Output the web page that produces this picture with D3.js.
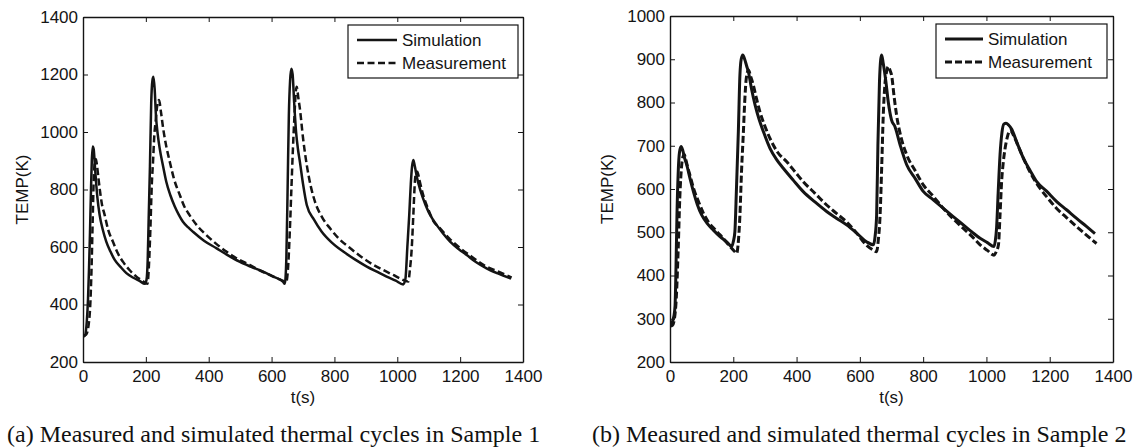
<!DOCTYPE html>
<html>
<head>
<meta charset="utf-8">
<script src="https://cdn.jsdelivr.net/npm/d3@7"></script>
<style>
  body { margin: 0; background: #fff; }
  svg { display: block; }
</style>
</head>
<body>
<svg id="chart" width="1137" height="448"></svg>
<script>
// ---------------- DATA ----------------
const xTicks = [0, 200, 400, 600, 800, 1000, 1200, 1400];
const yTicks1 = [200, 400, 600, 800, 1000, 1200, 1400];
const yTicks2 = [200, 300, 400, 500, 600, 700, 800, 900, 1000];
const seriesNames = ["Simulation", "Measurement"];
const captions = [
  "(a) Measured and simulated thermal cycles in Sample 1",
  "(b) Measured and simulated thermal cycles in Sample 2"
];

// Sample 1: [t (s), TEMP (K)]
const sample1Simulation = [[0,288],[6,292],[12,340],[16,420],[19,520],[22,640],[25,780],[28,900],[31,950],[34,940],[38,880],[42,820],[46,770],[53,711],[63,660],[74,619],[87,585],[101,555],[120,530],[138,509],[160,493],[180,482],[197,472],[202,485],[206,560],[209,700],[213,880],[217,1100],[221,1180],[224,1192],[228,1150],[232,1059],[238,990],[244,943],[255,880],[265,827],[278,780],[292,741],[305,712],[318,688],[335,668],[350,653],[385,622],[424,596],[460,572],[498,549],[535,531],[573,514],[605,497],[636,480],[642,472],[647,560],[651,800],[655,1059],[659,1180],[663,1220],[667,1200],[672,1100],[678,1000],[684,940],[690,897],[700,820],[712,746],[735,695],[759,654],[790,617],[828,584],[865,557],[903,532],[935,514],[966,497],[995,483],[1019,470],[1026,490],[1032,600],[1038,711],[1043,820],[1047,880],[1051,903],[1056,880],[1062,845],[1067,822],[1080,775],[1099,723],[1112,698],[1125,677],[1145,648],[1168,619],[1195,593],[1221,572],[1250,548],[1284,526],[1320,508],[1362,490]];
const sample1Measurement = [[0,290],[10,295],[18,330],[24,420],[28,560],[31,700],[34,830],[37,890],[41,906],[45,880],[49,840],[53,804],[60,750],[69,711],[80,660],[95,619],[110,580],[127,549],[148,520],[170,497],[190,482],[205,472],[210,540],[214,650],[219,820],[223,900],[227,990],[231,1036],[236,1090],[242,1111],[248,1070],[255,1013],[265,950],[276,897],[290,835],[308,781],[322,742],[339,711],[365,672],[392,642],[425,610],[456,584],[493,558],[530,538],[562,519],[594,503],[620,490],[647,480],[652,520],[658,654],[663,800],[668,943],[673,1060],[677,1140],[680,1157],[685,1120],[690,1082],[700,980],[712,885],[725,810],[738,758],[760,705],[786,665],[815,628],[850,596],[885,566],[924,538],[955,520],[987,503],[1010,490],[1035,480],[1040,520],[1046,596],[1051,710],[1056,827],[1060,860],[1064,862],[1070,835],[1080,790],[1099,730],[1115,690],[1136,665],[1165,630],[1200,596],[1237,566],[1274,538],[1320,515],[1364,494]];

// Sample 2: [t (s), TEMP (K)]
const sample2Simulation = [[0,285],[6,290],[12,305],[16,330],[19,420],[22,540],[26,640],[30,685],[35,698],[40,690],[46,672],[53,656],[63,625],[74,594],[86,565],[100,540],[118,520],[137,505],[158,490],[179,478],[195,467],[200,478],[205,501],[210,600],[216,733],[221,864],[225,900],[230,910],[236,900],[242,885],[248,870],[258,830],[269,794],[282,760],[295,733],[316,694],[337,668],[358,648],[390,620],[421,594],[458,570],[495,548],[527,532],[558,517],[590,498],[621,478],[643,471],[648,490],[653,540],[657,700],[662,848],[666,900],[669,910],[674,890],[682,850],[690,800],[700,760],[711,744],[728,700],[748,656],[775,624],[801,594],[832,575],[864,555],[895,536],[927,517],[955,500],[980,486],[1003,476],[1024,467],[1028,480],[1032,509],[1037,590],[1043,679],[1049,730],[1055,750],[1062,752],[1070,748],[1080,738],[1095,710],[1117,671],[1138,643],[1159,617],[1190,595],[1222,571],[1253,552],[1285,532],[1315,514],[1343,497]];
const sample2Measurement = [[0,283],[8,285],[14,300],[20,350],[26,463],[31,580],[37,656],[41,675],[45,680],[50,668],[56,650],[63,632],[75,600],[90,571],[105,545],[121,524],[140,508],[158,494],[177,478],[195,463],[205,455],[211,451],[215,470],[221,540],[226,640],[232,733],[236,800],[240,848],[244,868],[248,875],[255,860],[263,841],[273,810],[284,779],[300,745],[316,717],[340,685],[369,663],[395,640],[421,617],[458,590],[495,563],[527,543],[558,524],[590,498],[621,470],[640,460],[653,455],[658,480],[664,540],[669,650],[674,771],[679,840],[684,870],[690,883],[695,875],[701,860],[708,815],[716,771],[730,720],[748,679],[775,642],[801,609],[832,583],[864,555],[895,531],[927,509],[955,490],[980,471],[1003,458],[1024,447],[1031,455],[1038,471],[1043,540],[1048,617],[1053,660],[1059,694],[1066,720],[1075,736],[1085,725],[1100,700],[1117,671],[1140,636],[1169,602],[1195,578],[1222,555],[1253,534],[1285,513],[1315,494],[1348,474]];

// ---------------- DRAW ----------------
const svg = d3.select("#chart");
svg.append("rect").attr("width", 1137).attr("height", 448).attr("fill", "#fff");

const FONT = "'Liberation Sans', Arial, Helvetica, sans-serif";
const SERIF = "'Liberation Serif', 'Times New Roman', serif";
const ink = "#141414";

function panel(cfg) {
  const x = d3.scaleLinear().domain([0, 1400]).range([cfg.left, cfg.right]);
  const y = d3.scaleLinear().domain(cfg.yDomain).range([cfg.bottom, cfg.top]);
  const g = svg.append("g");

  const styleAxis = sel => {
    sel.select(".domain").attr("stroke", ink).attr("stroke-width", 1.4);
    sel.selectAll(".tick line").attr("stroke", ink).attr("stroke-width", 1);
    sel.selectAll("text").attr("font-family", FONT).attr("font-size", 17).attr("fill", ink);
  };

  g.append("g").attr("transform", `translate(0,${cfg.bottom})`)
    .call(d3.axisBottom(x).tickValues(xTicks).tickSize(-5).tickSizeOuter(0).tickPadding(8).tickFormat(d3.format("d")))
    .call(styleAxis);
  g.append("g").attr("transform", `translate(0,${cfg.top})`)
    .call(d3.axisTop(x).tickValues(xTicks).tickSize(-5).tickSizeOuter(0).tickFormat(""))
    .call(styleAxis);
  g.append("g").attr("transform", `translate(${cfg.left},0)`)
    .call(d3.axisLeft(y).tickValues(cfg.yTicks).tickSize(-5).tickSizeOuter(0).tickPadding(5).tickFormat(d3.format("d")))
    .call(styleAxis);
  g.append("g").attr("transform", `translate(${cfg.right},0)`)
    .call(d3.axisRight(y).tickValues(cfg.yTicks).tickSize(-5).tickSizeOuter(0).tickFormat(""))
    .call(styleAxis);

  const line = d3.line().x(d => x(d[0])).y(d => y(d[1])).curve(d3.curveMonotoneX);
  const clip = "clip" + cfg.id;
  g.append("clipPath").attr("id", clip).append("rect")
    .attr("x", cfg.left).attr("y", cfg.top).attr("width", cfg.right - cfg.left).attr("height", cfg.bottom - cfg.top);

  g.append("path").datum(cfg.meas).attr("d", line).attr("fill", "none")
    .attr("stroke", ink).attr("stroke-width", cfg.lw).attr("stroke-dasharray", cfg.dash)
    .attr("stroke-linejoin", "round").attr("clip-path", `url(#${clip})`);
  g.append("path").datum(cfg.sim).attr("d", line).attr("fill", "none")
    .attr("stroke", ink).attr("stroke-width", cfg.lw)
    .attr("stroke-linejoin", "round").attr("clip-path", `url(#${clip})`);

  // axis titles
  g.append("text").attr("x", (cfg.left + cfg.right) / 2).attr("y", cfg.bottom + 41)
    .attr("text-anchor", "middle").attr("font-family", FONT).attr("font-size", 17).attr("fill", ink).text("t(s)");
  g.append("text").attr("transform", `translate(${cfg.ylabX},${(cfg.top + cfg.bottom) / 2}) rotate(-90)`)
    .attr("text-anchor", "middle").attr("dy", "0.35em").attr("font-family", FONT).attr("font-size", 17).attr("fill", ink).text("TEMP(K)");

  // legend
  const L = cfg.legend;
  const lg = g.append("g");
  lg.append("rect").attr("x", L.x0).attr("y", L.y0).attr("width", L.x1 - L.x0).attr("height", L.y1 - L.y0)
    .attr("fill", "#fff").attr("stroke", ink).attr("stroke-width", 1.2);
  seriesNames.forEach((name, i) => {
    const ly = L.y0 + 15 + i * 23;
    lg.append("line").attr("x1", L.lx0).attr("x2", L.lx1).attr("y1", ly).attr("y2", ly)
      .attr("stroke", ink).attr("stroke-width", cfg.lw)
      .attr("stroke-dasharray", i === 1 ? cfg.dash : null);
    lg.append("text").attr("x", L.lx1 + 5).attr("y", ly).attr("dy", "0.36em")
      .attr("font-family", FONT).attr("font-size", 17).attr("fill", ink).text(name);
  });

  // caption
  svg.append("text").attr("x", cfg.capX).attr("y", 442)
    .attr("font-family", SERIF).attr("font-size", 24).attr("fill", "#111").text(cfg.caption);
}

panel({
  id: 1, left: 83, right: 523, top: 17, bottom: 362,
  yDomain: [200, 1400], yTicks: yTicks1, ylabX: 22,
  sim: sample1Simulation, meas: sample1Measurement,
  lw: 2.5, dash: "7,3.5",
  legend: { x0: 348, x1: 518, y0: 25, y1: 78, lx0: 357, lx1: 397 },
  caption: captions[0], capX: 7
});
panel({
  id: 2, left: 670, right: 1113, top: 16, bottom: 362,
  yDomain: [200, 1000], yTicks: yTicks2, ylabX: 607,
  sim: sample2Simulation, meas: sample2Measurement,
  lw: 3, dash: "7,3",
  legend: { x0: 936, x1: 1107, y0: 24, y1: 78, lx0: 945, lx1: 983 },
  caption: captions[1], capX: 592
});
</script>
</body>
</html>
